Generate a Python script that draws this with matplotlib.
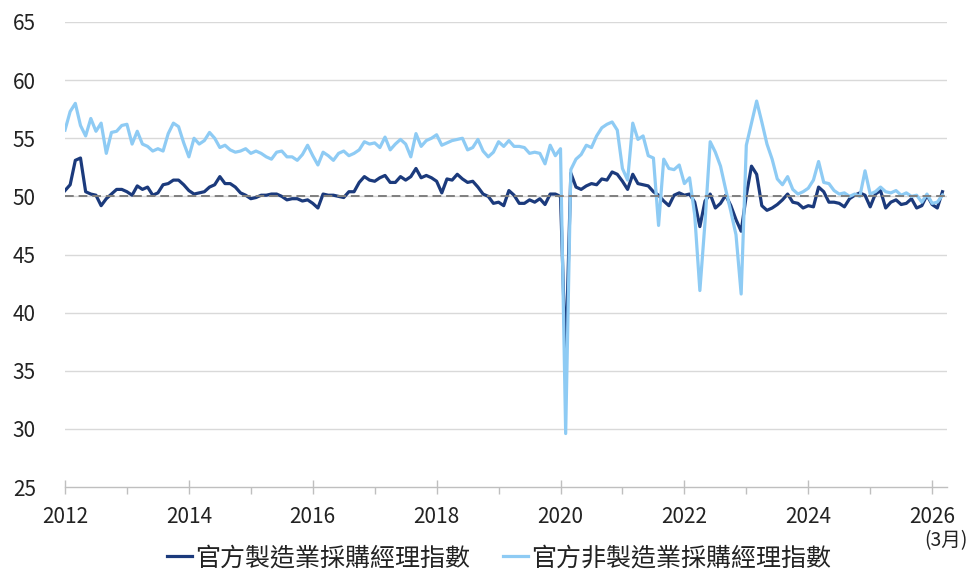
import matplotlib
matplotlib.use("Agg")
import matplotlib.pyplot as plt
import numpy as np

plt.rcParams['font.family'] = ['Noto Sans CJK TC', 'DejaVu Sans']
plt.rcParams['font.weight'] = 'medium'

start_year = 2012
mfg_label = "官方製造業採購經理指數"
nonmfg_label = "官方非製造業採購經理指數"

mfg = [
    50.5, 51.0, 53.1, 53.3, 50.4, 50.2, 50.1, 49.2, 49.8, 50.2, 50.6, 50.6,  # 2012
    50.4, 50.1, 50.9, 50.6, 50.8, 50.1, 50.3, 51.0, 51.1, 51.4, 51.4, 51.0,  # 2013
    50.5, 50.2, 50.3, 50.4, 50.8, 51.0, 51.7, 51.1, 51.1, 50.8, 50.3, 50.1,  # 2014
    49.8, 49.9, 50.1, 50.1, 50.2, 50.2, 50.0, 49.7, 49.8, 49.8, 49.6, 49.7,  # 2015
    49.4, 49.0, 50.2, 50.1, 50.1, 50.0, 49.9, 50.4, 50.4, 51.2, 51.7, 51.4,  # 2016
    51.3, 51.6, 51.8, 51.2, 51.2, 51.7, 51.4, 51.7, 52.4, 51.6, 51.8, 51.6,  # 2017
    51.3, 50.3, 51.5, 51.4, 51.9, 51.5, 51.2, 51.3, 50.8, 50.2, 50.0, 49.4,  # 2018
    49.5, 49.2, 50.5, 50.1, 49.4, 49.4, 49.7, 49.5, 49.8, 49.3, 50.2, 50.2,  # 2019
    50.0, 35.7, 52.0, 50.8, 50.6, 50.9, 51.1, 51.0, 51.5, 51.4, 52.1, 51.9,  # 2020
    51.3, 50.6, 51.9, 51.1, 51.0, 50.9, 50.4, 50.1, 49.6, 49.2, 50.1, 50.3,  # 2021
    50.1, 50.2, 49.5, 47.4, 49.6, 50.2, 49.0, 49.4, 50.1, 49.2, 48.0, 47.0,  # 2022
    50.1, 52.6, 51.9, 49.2, 48.8, 49.0, 49.3, 49.7, 50.2, 49.5, 49.4, 49.0,  # 2023
    49.2, 49.1, 50.8, 50.4, 49.5, 49.5, 49.4, 49.1, 49.8, 50.1, 50.3, 50.1,  # 2024
    49.1, 50.2, 50.5, 49.0, 49.5, 49.7, 49.3, 49.4, 49.8, 49.0, 49.2, 50.1,  # 2025
    49.3, 49.0, 50.4,                                                        # 2026
]

nonmfg = [
    55.7, 57.3, 58.0, 56.1, 55.2, 56.7, 55.6, 56.3, 53.7, 55.5, 55.6, 56.1,  # 2012
    56.2, 54.5, 55.6, 54.5, 54.3, 53.9, 54.1, 53.9, 55.4, 56.3, 56.0, 54.6,  # 2013
    53.4, 55.0, 54.5, 54.8, 55.5, 55.0, 54.2, 54.4, 54.0, 53.8, 53.9, 54.1,  # 2014
    53.7, 53.9, 53.7, 53.4, 53.2, 53.8, 53.9, 53.4, 53.4, 53.1, 53.6, 54.4,  # 2015
    53.5, 52.7, 53.8, 53.5, 53.1, 53.7, 53.9, 53.5, 53.7, 54.0, 54.7, 54.5,  # 2016
    54.6, 54.2, 55.1, 54.0, 54.5, 54.9, 54.5, 53.4, 55.4, 54.3, 54.8, 55.0,  # 2017
    55.3, 54.4, 54.6, 54.8, 54.9, 55.0, 54.0, 54.2, 54.9, 53.9, 53.4, 53.8,  # 2018
    54.7, 54.3, 54.8, 54.3, 54.3, 54.2, 53.7, 53.8, 53.7, 52.8, 54.4, 53.5,  # 2019
    54.1, 29.6, 52.3, 53.2, 53.6, 54.4, 54.2, 55.2, 55.9, 56.2, 56.4, 55.7,  # 2020
    52.4, 51.4, 56.3, 54.9, 55.2, 53.5, 53.3, 47.5, 53.2, 52.4, 52.3, 52.7,  # 2021
    51.1, 51.6, 48.4, 41.9, 47.8, 54.7, 53.8, 52.6, 50.6, 48.7, 46.7, 41.6,  # 2022
    54.4, 56.3, 58.2, 56.4, 54.5, 53.2, 51.5, 51.0, 51.7, 50.6, 50.2, 50.4,  # 2023
    50.7, 51.4, 53.0, 51.2, 51.1, 50.5, 50.2, 50.3, 50.0, 50.2, 50.0, 52.2,  # 2024
    50.2, 50.4, 50.8, 50.4, 50.3, 50.5, 50.1, 50.3, 50.0, 50.1, 49.5, 50.2,  # 2025
    49.4, 49.5, 50.1,                                                        # 2026
]

y_ticks = [25, 30, 35, 40, 45, 50, 55, 60, 65]
x_major = [2012, 2014, 2016, 2018, 2020, 2022, 2024, 2026]
threshold = 50

x = start_year + np.arange(len(mfg)) / 12.0

fig = plt.figure(figsize=(9.73, 5.74), dpi=100)
ax = fig.add_axes([65/973, 1 - 487/574, (947 - 65)/973, (487 - 22)/574])

dark = "#1b3a7c"
light = "#8ecbf4"

l_m, = ax.plot(x, mfg, color=dark, lw=2.3, solid_joinstyle='round', zorder=3, label=mfg_label)
l_n, = ax.plot(x, nonmfg, color=light, lw=2.3, solid_joinstyle='round', zorder=4, label=nonmfg_label)
ax.axhline(threshold, color="#7f7f7f", lw=1.4, ls=(0, (4.5, 2.5)), zorder=5)

ax.set_ylim(25, 65)
ax.set_xlim(2012, 2026.24)
ax.set_yticks(y_ticks)
ax.set_xticks(x_major)
ax.set_xticks(np.arange(2013, 2026, 2), minor=True)
ax.set_xticklabels([str(v) for v in x_major])

for v in y_ticks[1:]:
    ax.axhline(v, color="#d9d9d9", lw=1.0, zorder=1)

for s in ['top', 'right', 'left']:
    ax.spines[s].set_visible(False)
ax.spines['bottom'].set_color("#bfbfbf")
ax.spines['bottom'].set_linewidth(1.0)

ax.tick_params(axis='y', length=0, pad=21, labelsize=15, labelcolor="#222222")
ax.tick_params(axis='x', which='major', direction='inout', length=10, color="#bfbfbf",
               width=1.0, pad=9, labelsize=15, labelcolor="#222222")
ax.tick_params(axis='x', which='minor', direction='out', length=5, color="#bfbfbf", width=1.0)

fig.text(968/973, 1 - 541/574, "(3月)", ha='right', va='center', fontsize=14, color="#222222")

leg = fig.legend([l_m, l_n], [mfg_label, nonmfg_label], loc='center', bbox_to_anchor=(0.513, 1 - 558/574),
                 ncol=2, frameon=False, fontsize=18, handlelength=1.0, handletextpad=0.12,
                 columnspacing=1.3, borderaxespad=0)
for t in leg.get_texts():
    t.set_color("#222222")

fig.savefig("out.png", dpi=100)
